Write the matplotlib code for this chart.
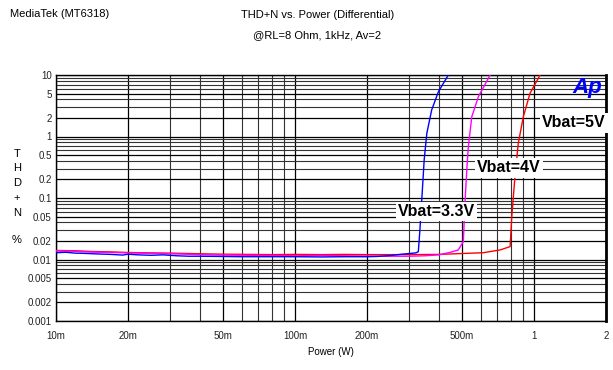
import numpy as np
import matplotlib.pyplot as plt
from matplotlib.ticker import FixedLocator, NullFormatter, LogLocator

plt.rcParams['font.family'] = ['Liberation Sans', 'DejaVu Sans']

# Vbat = 3.3V (blue)
p_33 = [0.010, 0.011, 0.012, 0.013, 0.015, 0.017, 0.019, 0.020, 0.022, 0.025,
        0.028, 0.032, 0.036, 0.040, 0.050, 0.060, 0.080, 0.10, 0.13, 0.16,
        0.20, 0.22, 0.25, 0.28, 0.30, 0.32, 0.328, 0.333, 0.339, 0.347,
        0.356, 0.373, 0.398, 0.438]
thd_33 = [0.0129, 0.0131, 0.0127, 0.0126, 0.0123, 0.0121, 0.0118, 0.0122, 0.0119, 0.0117,
          0.0119, 0.0115, 0.0113, 0.0113, 0.0112, 0.0111, 0.0111, 0.0111, 0.0110, 0.0111,
          0.0111, 0.0112, 0.0116, 0.0122, 0.0125, 0.0128, 0.0134, 0.0302, 0.0927, 0.415,
          1.13, 2.70, 5.35, 10.0]

# Vbat = 4V (magenta)
p_4 = [0.010, 0.012, 0.014, 0.017, 0.020, 0.025, 0.030, 0.040, 0.050, 0.065,
       0.080, 0.10, 0.13, 0.16, 0.20, 0.25, 0.30, 0.35, 0.40, 0.45,
       0.482, 0.506, 0.514, 0.523, 0.531, 0.549, 0.585, 0.655]
thd_4 = [0.0138, 0.0136, 0.0132, 0.0130, 0.0128, 0.0126, 0.0124, 0.0120, 0.0118, 0.0117,
         0.0116, 0.0115, 0.0116, 0.0115, 0.0114, 0.0113, 0.0113, 0.0115, 0.0119, 0.0132,
         0.0143, 0.0195, 0.082, 0.285, 0.68, 2.10, 4.44, 10.0]

# Vbat = 5V (red)
p_5 = [0.010, 0.012, 0.014, 0.017, 0.020, 0.025, 0.030, 0.040, 0.050, 0.065,
       0.080, 0.10, 0.13, 0.16, 0.20, 0.25, 0.30, 0.40, 0.523, 0.614,
       0.721, 0.794, 0.807, 0.832, 0.859, 0.902, 0.962, 1.06]
thd_5 = [0.0140, 0.0139, 0.0135, 0.0133, 0.0130, 0.0128, 0.0127, 0.0124, 0.0122, 0.0121,
         0.0120, 0.0121, 0.0120, 0.0121, 0.0120, 0.0120, 0.0120, 0.0121, 0.0126, 0.0129,
         0.0143, 0.0162, 0.050, 0.222, 0.774, 2.10, 5.04, 10.0]

xticks = [0.01, 0.02, 0.05, 0.1, 0.2, 0.5, 1, 2]
xlabels = ['10m', '20m', '50m', '100m', '200m', '500m', '1', '2']
yticks = [10, 5, 2, 1, 0.5, 0.2, 0.1, 0.05, 0.02, 0.01, 0.005, 0.002, 0.001]
ylabels = ['10', '5', '2', '1', '0.5', '0.2', '0.1', '0.05', '0.02', '0.01', '0.005', '0.002', '0.001']

fig = plt.figure(figsize=(6.13, 3.70), dpi=100)
ax = fig.add_axes([56 / 613, 1 - 321 / 370, 550 / 613, 246 / 370])

ax.plot(p_5, thd_5, color='#ff0000', lw=1.0, zorder=3)
ax.plot(p_4, thd_4, color='#ff00ff', lw=1.0, zorder=3)
ax.plot(p_33, thd_33, color='#0000ff', lw=1.0, zorder=4)

ax.set_xscale('log')
ax.set_yscale('log')
ax.set_xlim(0.01, 2)
ax.set_ylim(0.001, 10)

ax.xaxis.set_major_locator(FixedLocator(xticks))
ax.set_xticklabels(xlabels)
ax.xaxis.set_minor_locator(LogLocator(base=10, subs=np.arange(2, 10)))
ax.xaxis.set_minor_formatter(NullFormatter())
ax.yaxis.set_major_locator(FixedLocator(yticks))
ax.set_yticklabels(ylabels)
ax.yaxis.set_minor_locator(LogLocator(base=10, subs=np.arange(2, 10)))
ax.yaxis.set_minor_formatter(NullFormatter())

ax.tick_params(which='both', length=0, labelsize=7, colors='#222222')
ax.tick_params(axis='x', pad=7)
ax.tick_params(axis='y', pad=3)
ax.grid(True, which='major', color='black', lw=0.9)
ax.grid(True, which='minor', color='#333333', lw=0.8)
for s in ax.spines.values():
    s.set_color('black')
    s.set_linewidth(1.0)
ax.spines['right'].set_linewidth(2.0)

box = dict(facecolor='white', edgecolor='none', pad=1.5)
ax.text(0.392, 0.060, 'Vbat=3.3V', fontsize=11.5, fontweight='bold',
        ha='center', va='center', bbox=box, zorder=5)
ax.text(0.785, 0.308, 'Vbat=4V', fontsize=11.5, fontweight='bold',
        ha='center', va='center', bbox=box, zorder=5)
ax.text(1.47, 1.66, 'Vbat=5V', fontsize=11.5, fontweight='bold',
        ha='center', va='center', bbox=box, zorder=5)
ax.text(0.993, 0.99, 'Ap', transform=ax.transAxes, fontsize=16, fontweight='bold',
        fontstyle='italic', color='#0000ff', ha='right', va='top', zorder=6)

fig.text(10 / 613, 1 - 14 / 370, 'MediaTek (MT6318)', fontsize=8, va='center', ha='left')
fig.text(318 / 613, 1 - 15 / 370, 'THD+N vs. Power (Differential)', fontsize=8,
         va='center', ha='center')
fig.text(317 / 613, 1 - 35 / 370, '@RL=8 Ohm, 1kHz, Av=2', fontsize=8,
         va='center', ha='center')
fig.text(331 / 613, 1 - 352 / 370, 'Power (W)', fontsize=7, va='center', ha='center')
for ch, yp in zip(['T', 'H', 'D', '+', 'N', '%'], [154, 168, 183, 198, 213, 240]):
    fig.text(17 / 613, 1 - yp / 370, ch, fontsize=8, va='center', ha='center')

fig.savefig('out.png', dpi=100)
